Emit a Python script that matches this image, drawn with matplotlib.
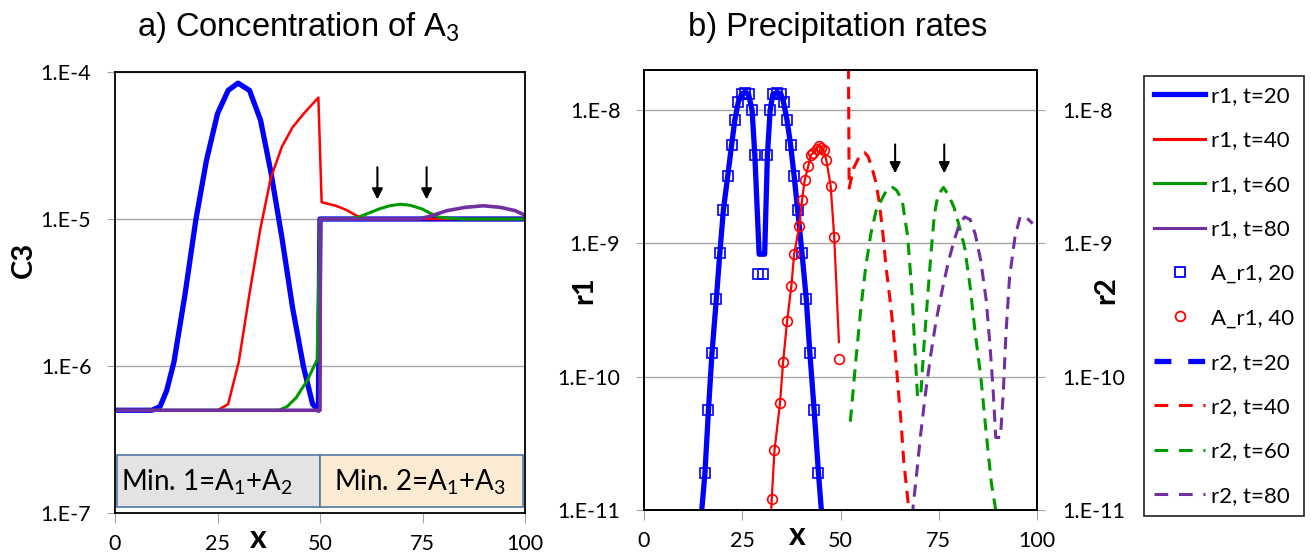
import numpy as np
import matplotlib
matplotlib.use("Agg")
import matplotlib.pyplot as plt
from matplotlib.lines import Line2D
from matplotlib.patches import Rectangle
from matplotlib.ticker import FuncFormatter, FixedLocator

plt.rcParams["font.family"] = ["Lato", "DejaVu Sans"]
plt.rcParams["mathtext.fontset"] = "custom"
plt.rcParams["mathtext.rm"] = "Lato"
plt.rcParams["mathtext.default"] = "rm"

# ---- a) C3 profiles
xC20 = [0, 9, 11, 12.6, 14.4, 17.1, 19.7, 22.3, 25, 27.6, 30, 32.8, 35.5, 38, 40.7, 43.3, 46, 48.2, 49.6, 50, 100]
C20 = [5e-7, 5e-7, 5.3e-7, 6.8e-7, 1.07e-6, 3.1e-6, 9.8e-6, 2.5e-5, 5.2e-5, 7.5e-5, 8.4e-5, 7.5e-5, 4.7e-5,
       2.1e-5, 7.5e-6, 2.5e-6, 9.8e-7, 5.5e-7, 5e-7, 1e-5, 1e-5]
xC40 = [0, 25, 27.6, 30.2, 32.8, 35.5, 38, 40.7, 43.3, 46, 49.6, 50.4, 53.9, 56.5, 59, 62, 100]
C40 = [5e-7, 5e-7, 5.5e-7, 1.07e-6, 3.1e-6, 8.7e-6, 1.9e-5, 3.1e-5, 4.2e-5, 5.2e-5, 6.7e-5,
       1.3e-5, 1.23e-5, 1.15e-5, 1.05e-5, 1e-5, 1e-5]
xC60 = [0, 40, 42, 44.2, 46.8, 49.3, 50, 56, 59, 62, 64.4, 67, 69.6, 72, 74.9, 77, 79, 82, 85, 100]
C60 = [5e-7, 5e-7, 5.3e-7, 6.1e-7, 7.9e-7, 1.1e-6, 1e-5, 1e-5, 1.02e-5, 1.1e-5, 1.17e-5, 1.23e-5,
       1.26e-5, 1.24e-5, 1.17e-5, 1.09e-5, 1.03e-5, 1.01e-5, 1e-5, 1e-5]
xC80 = [0, 50, 50.1, 74, 76.6, 81, 85.4, 89.8, 94, 97.6, 100]
C80 = [5e-7, 5e-7, 1e-5, 1e-5, 1.04e-5, 1.14e-5, 1.2e-5, 1.23e-5, 1.2e-5, 1.14e-5, 1.06e-5]
arrowsA_x = [64, 76]

# ---- b) precipitation rates
xr1_20 = [14.4, 15.5, 16.4, 17.3, 18.4, 19.3, 20.2, 21.3, 22.3, 23.1, 24.0, 24.9, 25.7, 26.6, 27.5, 28.2,
          29.3, 30.7, 31.4, 32.1, 32.8, 33.9, 34.8, 35.5, 36.4, 37.3, 38.2, 39.1, 40.2, 41.3, 42.2, 43.3,
          44.4, 45.4]
r1_20 = [7.9e-12, 1.88e-11, 5.6e-11, 1.51e-10, 3.8e-10, 8.5e-10, 1.78e-9, 3.2e-9, 5.5e-9, 8.4e-9, 1.15e-8,
         1.33e-8, 1.35e-8, 1.32e-8, 1.0e-8, 4.6e-9, 8.3e-10, 8.3e-10, 4.6e-9, 1.0e-8, 1.32e-8, 1.35e-8,
         1.33e-8, 1.15e-8, 8.4e-9, 5.5e-9, 3.2e-9, 1.78e-9, 8.5e-10, 3.8e-10, 1.51e-10, 5.6e-11,
         1.88e-11, 7.9e-12]
xA20 = [15.5, 16.4, 17.3, 18.4, 19.3, 20.2, 21.3, 22.3, 23.1, 24.0, 24.9, 25.7, 26.6, 27.5, 28.2, 29.1,
        30.4, 31.4, 32.1, 32.8, 33.9, 34.8, 35.5, 36.4, 37.3, 38.2, 39.1, 40.2, 41.3, 42.2, 43.3, 44.4]
A20 = [1.88e-11, 5.6e-11, 1.51e-10, 3.8e-10, 8.5e-10, 1.78e-9, 3.2e-9, 5.5e-9, 8.4e-9, 1.15e-8, 1.33e-8,
       1.35e-8, 1.32e-8, 1.0e-8, 4.6e-9, 5.9e-10, 5.9e-10, 4.6e-9, 1.0e-8, 1.32e-8, 1.35e-8, 1.33e-8,
       1.15e-8, 8.4e-9, 5.5e-9, 3.2e-9, 1.78e-9, 8.5e-10, 3.8e-10, 1.51e-10, 5.6e-11, 1.88e-11]
xr1_40 = [32.3, 32.5, 33.2, 34.6, 35.4, 36.4, 37.5, 38.2, 39.5, 40.2, 40.9, 41.8, 42.5, 43.1, 43.9, 44.5,
          45.0, 45.7, 46.4, 47.5, 48.4, 49.6]
r1_40 = [9e-12, 1.2e-11, 2.8e-11, 6.3e-11, 1.29e-10, 2.6e-10, 4.8e-10, 8.3e-10, 1.35e-9, 2.1e-9, 3.0e-9,
         3.8e-9, 4.6e-9, 4.8e-9, 5.1e-9, 5.4e-9, 5.2e-9, 5.0e-9, 4.2e-9, 2.7e-9, 1.12e-9, 1.82e-10]
xA40 = [32.5, 33.2, 34.6, 35.4, 36.4, 37.5, 38.2, 39.5, 40.2, 40.9, 41.8, 42.5, 43.1, 43.9, 44.5, 45.0,
        45.7, 46.4, 47.5, 48.4, 49.6]
A40 = [1.2e-11, 2.8e-11, 6.3e-11, 1.29e-10, 2.6e-10, 4.8e-10, 8.3e-10, 1.35e-9, 2.1e-9, 3.0e-9, 3.8e-9,
       4.6e-9, 4.8e-9, 5.1e-9, 5.4e-9, 5.2e-9, 5.0e-9, 4.2e-9, 2.7e-9, 1.12e-9, 1.35e-10]
xr2_40 = [52.0, 52.2, 53.4, 54.3, 55.2, 56.1, 57.0, 58.0, 58.9, 59.8, 60.7, 61.6, 62.5, 63.4, 64.1, 64.8,
          65.5, 66.1, 66.8, 67.5]
r2_40 = [3e-8, 2.6e-9, 3.7e-9, 4.2e-9, 4.7e-9, 4.8e-9, 4.5e-9, 3.7e-9, 2.95e-9, 2.1e-9, 1.26e-9, 6.6e-10,
         4.0e-10, 2.3e-10, 1.32e-10, 7.4e-11, 4.2e-11, 2.3e-11, 1.48e-11, 9.3e-12]
xr2_60 = [52.5, 53.9, 55.2, 56.4, 57.7, 59.1, 60.7, 62.0, 63.3, 64.3, 65.7, 67.1, 68.2, 68.9, 69.6, 70.4,
          71.2, 72.1, 73.0, 73.9, 74.8, 76.2, 77.5, 78.9, 80.3, 81.6, 83.0, 84.3, 85.7, 87.1, 88.4, 89.5,
          89.8]
r2_60 = [4.6e-11, 1.32e-10, 3.3e-10, 6.6e-10, 1.17e-9, 1.78e-9, 2.2e-9, 2.6e-9, 2.63e-9, 2.5e-9, 2.1e-9,
         1.12e-9, 4.2e-10, 1.66e-10, 7.1e-11, 7.1e-11, 1.66e-10, 3.7e-10, 8.3e-10, 1.66e-9, 2.3e-9,
         2.63e-9, 2.3e-9, 1.86e-9, 1.32e-9, 9.3e-10, 4.7e-10, 2.1e-10, 1.0e-10, 3.7e-11, 1.58e-11,
         1.0e-11, 7.9e-12]
xr2_80 = [68.2, 69.3, 70.4, 71.6, 73.0, 74.3, 75.9, 77.5, 78.9, 80.3, 81.6, 83.0, 84.3, 85.7, 87.1, 88.0,
          88.9, 89.5, 90.7, 91.4, 92.1, 93.0, 94.4, 95.7, 97.1, 98.9]
r2_80 = [8.9e-12, 1.78e-11, 3.7e-11, 7.4e-11, 1.48e-10, 2.6e-10, 4.5e-10, 7.4e-10, 1.05e-9, 1.41e-9,
         1.58e-9, 1.51e-9, 1.17e-9, 7.4e-10, 3.7e-10, 1.78e-10, 7.4e-11, 3.5e-11, 3.5e-11, 7.4e-11,
         2.1e-10, 5.5e-10, 1.12e-9, 1.58e-9, 1.58e-9, 1.41e-9]
arrowsB_x = [63.9, 76.4]

BLUE, RED, GREEN, PURPLE = "#0000ff", "#ff0000", "#009a00", "#7030a0"
GRID = "#a6a6a6"
TICK_FS = 15.5

fig = plt.figure(figsize=(13.11, 5.54), dpi=100)
W, H = 1311, 554
axA = fig.add_axes([115 / W, 1 - 513 / H, 410 / W, 441 / H])
axB = fig.add_axes([644 / W, 1 - 510 / H, 393 / W, 440 / H])

fmt = FuncFormatter(lambda v, p: "1.E%d" % int(round(np.log10(v))))


def style(ax, ylim, decades):
    ax.set_yscale("log")
    ax.set_xlim(0, 100)
    ax.set_ylim(*ylim)
    ax.yaxis.set_major_locator(FixedLocator(decades))
    ax.yaxis.set_minor_locator(FixedLocator([]))
    ax.yaxis.set_major_formatter(fmt)
    ax.set_xticks([0, 25, 50, 75, 100])
    ax.grid(True, axis="y", color=GRID, lw=1)
    ax.tick_params(axis="x", length=7, pad=8, color=GRID, labelsize=TICK_FS)
    ax.tick_params(axis="y", length=6, pad=11, color=GRID, labelsize=TICK_FS)
    for s in ax.spines.values():
        s.set_color("black")
        s.set_linewidth(1.3)


# panel a
style(axA, (1e-7, 1e-4), [1e-7, 1e-6, 1e-5, 1e-4])
axA.plot(xC20, C20, color=BLUE, lw=3.8)
axA.plot(xC40, C40, color=RED, lw=1.8)
axA.plot(xC60, C60, color=GREEN, lw=2.2)
axA.plot(xC80, C80, color=PURPLE, lw=2.6)
for xa in arrowsA_x:
    axA.annotate("", xy=(xa, 1.3e-5), xytext=(xa, 2.35e-5),
                 arrowprops=dict(arrowstyle="-|>", color="black", lw=1.5, mutation_scale=16))
axA.add_patch(Rectangle((0.006, 0.0136), 0.493, 0.118, transform=axA.transAxes,
                        facecolor="#e3e3e3", edgecolor="#4f79a8", lw=1.2, zorder=5))
axA.add_patch(Rectangle((0.499, 0.0136), 0.495, 0.118, transform=axA.transAxes,
                        facecolor="#fcebd3", edgecolor="#4f79a8", lw=1.2, zorder=5))
axA.text(0.014, 0.07, "Min. 1=A$_1$+A$_2$", transform=axA.transAxes, fontsize=20,
         va="center", ha="left", zorder=6)
axA.text(0.534, 0.07, "Min. 2=A$_1$+A$_3$", transform=axA.transAxes, fontsize=20,
         va="center", ha="left", zorder=6)
axA.set_ylabel("C3", fontsize=21, fontweight="bold")
axA.yaxis.set_label_coords(-0.19, 0.574)

# panel b
style(axB, (1e-11, 2e-8), [1e-11, 1e-10, 1e-9, 1e-8])
axB2 = axB.twinx()
axB2.set_yscale("log")
axB2.set_ylim(1e-11, 2e-8)
axB2.yaxis.set_major_locator(FixedLocator([1e-11, 1e-10, 1e-9, 1e-8]))
axB2.yaxis.set_minor_locator(FixedLocator([]))
axB2.yaxis.set_major_formatter(fmt)
axB2.tick_params(axis="y", length=6, pad=12, color=GRID, labelsize=TICK_FS)
for s in axB2.spines.values():
    s.set_color("black")
    s.set_linewidth(1.3)

axB.plot(xr1_20, r1_20, color=BLUE, lw=3.8)
axB.plot(xA20, A20, ls="none", marker="s", ms=6.5, mfc="none", mec=BLUE, mew=1.2)
axB.plot(xr1_40, r1_40, color=RED, lw=1.6)
axB.plot(xA40, A40, ls="none", marker="o", ms=7, mfc="none", mec=RED, mew=1.2)
axB2.plot(xr2_40, r2_40, color=RED, lw=2.2, dashes=(4, 2.6))
axB2.plot(xr2_60, r2_60, color=GREEN, lw=2.2, dashes=(4, 2.6))
axB2.plot(xr2_80, r2_80, color=PURPLE, lw=2.2, dashes=(4, 2.6))
for xb in arrowsB_x:
    axB2.annotate("", xy=(xb, 3.2e-9), xytext=(xb, 5.8e-9),
                  arrowprops=dict(arrowstyle="-|>", color="black", lw=1.5, mutation_scale=16))
axB.set_ylabel("r1", fontsize=21, fontweight="bold")
axB.yaxis.set_label_coords(-0.12, 0.5)
axB2.set_ylabel("r2", fontsize=21, fontweight="bold")
axB2.yaxis.set_label_coords(1.142, 0.5)

for ax, xl in [(axA, 35), (axB, 39)]:
    ax.annotate("x", xy=(xl, 0), xycoords=("data", "axes fraction"), xytext=(0, -35),
                textcoords="offset pixels", ha="center", va="baseline", fontsize=23,
                fontweight="bold")

fig.text(298 / W, 1 - 36 / H, "a) Concentration of A$_3$", ha="center", va="baseline",
         fontsize=23.5, family=["Liberation Sans", "DejaVu Sans"])
fig.text(838 / W, 1 - 36 / H, "b) Precipitation rates", ha="center", va="baseline",
         fontsize=23.5, family=["Liberation Sans", "DejaVu Sans"])

handles = [
    Line2D([], [], color=BLUE, lw=3.8),
    Line2D([], [], color=RED, lw=2.2),
    Line2D([], [], color=GREEN, lw=2.2),
    Line2D([], [], color=PURPLE, lw=2.2),
    Line2D([], [], ls="none", marker="s", ms=7, mfc="none", mec=BLUE, mew=1.3),
    Line2D([], [], ls="none", marker="o", ms=7, mfc="none", mec=RED, mew=1.3),
    Line2D([], [], color=BLUE, lw=3.8, dashes=(3.2, 3.2)),
    Line2D([], [], color=RED, lw=2.2, dashes=(4.5, 3.5)),
    Line2D([], [], color=GREEN, lw=2.2, dashes=(4.5, 3.5)),
    Line2D([], [], color=PURPLE, lw=2.2, dashes=(4.5, 3.5)),
]
labels = ["r1, t=20", "r1, t=40", "r1, t=60", "r1, t=80", "A_r1, 20", "A_r1, 40",
          "r2, t=20", "r2, t=40", "r2, t=60", "r2, t=80"]
leg = fig.legend(handles, labels, loc="upper left", bbox_to_anchor=(1144 / W, 1 - 76 / H),
                 borderaxespad=0, fontsize=16, frameon=True, fancybox=False,
                 handlelength=2.3, handletextpad=0.25, labelspacing=1.1, borderpad=0.45)
leg.get_frame().set_edgecolor("black")
leg.get_frame().set_linewidth(1.3)

fig.savefig("out.png", dpi=100)
